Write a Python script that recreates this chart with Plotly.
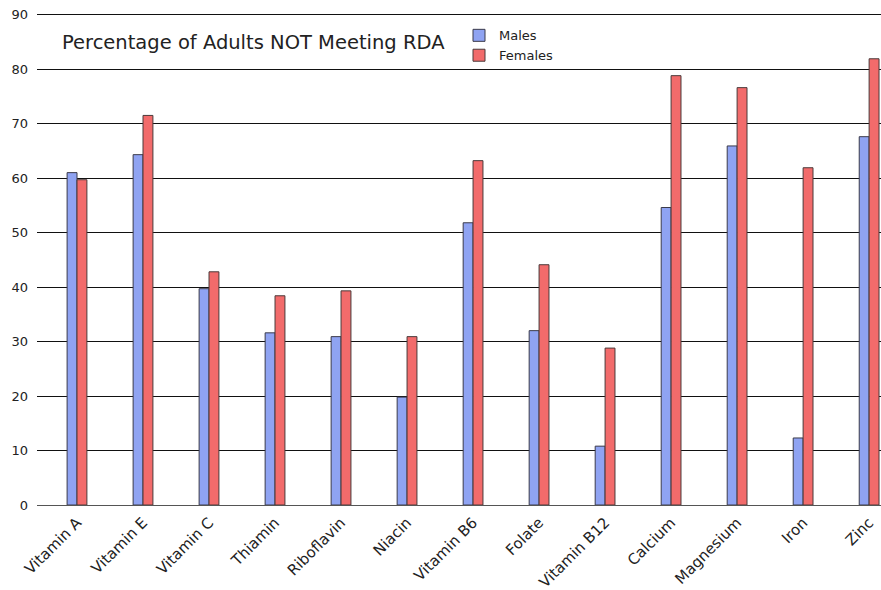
import plotly.graph_objects as go

categories = ["Vitamin A", "Vitamin E", "Vitamin C", "Thiamin", "Riboflavin", "Niacin",
              "Vitamin B6", "Folate", "Vitamin B12", "Calcium", "Magnesium", "Iron", "Zinc"]
males = [61.0, 64.3, 39.7, 31.6, 30.9, 19.8, 51.8, 32.0, 10.8, 54.6, 65.9, 12.3, 67.6]
females = [59.7, 71.5, 42.8, 38.4, 39.3, 30.9, 63.2, 44.1, 28.8, 78.8, 76.6, 61.9, 81.9]

FONT = "DejaVu Sans"

fig = go.Figure()
fig.add_trace(go.Bar(x=categories, y=males, name="Males",
                     marker=dict(color="#8fa3f2", line=dict(color="#3a3a4a", width=1))))
fig.add_trace(go.Bar(x=categories, y=females, name="Females",
                     marker=dict(color="#f26b6b", line=dict(color="#4a3a3a", width=1))))

fig.update_layout(
    width=881, height=590,
    margin=dict(l=37, r=0, t=13, b=85),
    plot_bgcolor="white", paper_bgcolor="white",
    barmode="group", bargap=0.7, bargroupgap=0,
    font=dict(family=FONT, color="#222", size=13),
    showlegend=True,
    legend=dict(x=0.5, y=0.985, xanchor="left", yanchor="top",
                bgcolor="rgba(0,0,0,0)", font=dict(size=13, family=FONT),
                itemwidth=30, tracegroupgap=2),
    annotations=[dict(text="Percentage of Adults NOT Meeting RDA", x=0.027, y=0.94,
                      xref="paper", yref="paper", xanchor="left", yanchor="middle",
                      showarrow=False, font=dict(size=19.5, family=FONT, color="#222"))],
)
fig.update_xaxes(range=[-0.606, 12.18], tickangle=-45, showgrid=False, showline=False,
                 tickfont=dict(size=15, family=FONT), ticks="", ticklabelstandoff=5)
fig.update_yaxes(range=[0, 90.3], dtick=10, showgrid=True, gridcolor="#111", gridwidth=1.3,
                 zeroline=True, zerolinecolor="#555", zerolinewidth=1.3,
                 showline=False, ticks="", ticklabelstandoff=8,
                 tickfont=dict(size=13, family=FONT))

fig.write_html("out.html")
